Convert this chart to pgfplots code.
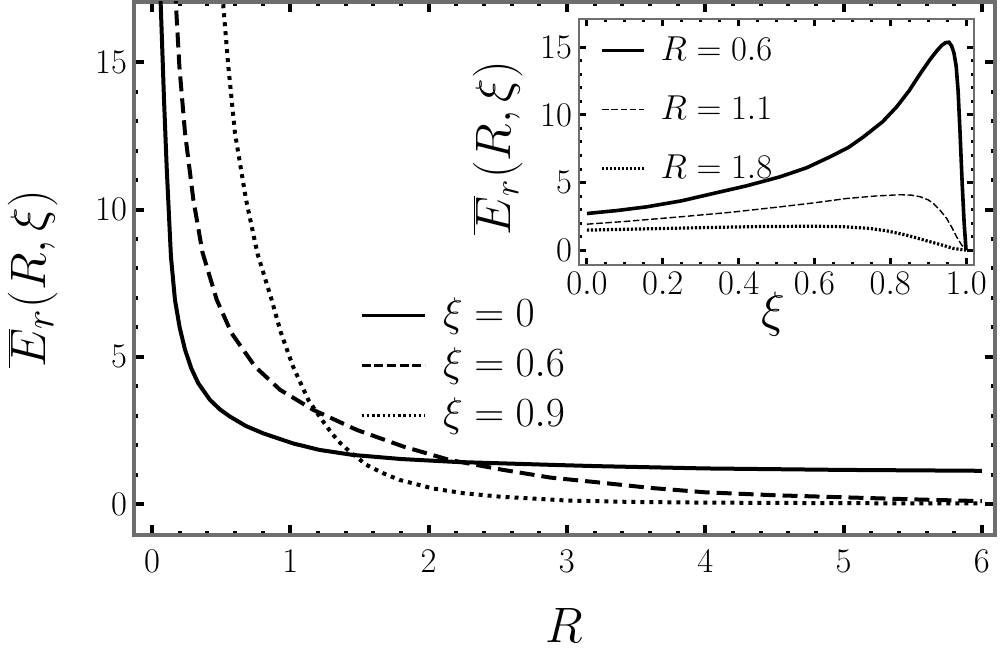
\documentclass[border=0pt]{standalone}
\usepackage{pgfplots}
\pgfplotsset{compat=1.18}
\definecolor{framegray}{RGB}{110,110,110}
\begin{document}
\begin{tikzpicture}
\begin{axis}[
 name=main, at={(0pt,0pt)}, anchor=south west,
 scale only axis, width=430.5pt, height=266.5pt,
 xmin=-0.13, xmax=6.095, ymin=-1.05, ymax=17.05,
 xtick={0,1,2,3,4,5,6}, ytick={0,5,10,15},
 minor x tick num=4, minor y tick num=4,
 tick align=inside, tick pos=both,
 axis line style={framegray, line width=1.6pt},
 tick style={black, line width=2pt},
 major tick length=5pt, minor tick length=2.2pt,
 tick label style={font=\fontsize{19}{21}\selectfont},
 xticklabel style={yshift=-4pt},
 xlabel={$R$},
 xlabel style={font=\fontsize{32}{36}\selectfont, at={(axis description cs:0.5,-0.17)}, anchor=center},
 ylabel={$\overline{E}_r(R,\xi)$},
 ylabel style={font=\fontsize{32}{36}\selectfont, at={(axis description cs:-0.1173,0.48)}, anchor=center},
 legend style={at={(axis description cs:0.2625,0.4597)}, anchor=north west, draw=none, fill=none,
   inner sep=0pt, column sep=8.5pt, nodes={inner sep=0pt, text height=18pt, text depth=7pt},
   font=\fontsize{22}{25}\selectfont},
 legend cell align=left,
 legend image code/.code={\draw[#1] (0pt,0pt) -- (31.5pt,0pt);},
]
\addlegendimage{black, line width=1.3pt}
\addlegendimage{black, line width=1.3pt, dash pattern=on 4.5pt off 1.8pt}
\addlegendimage{black, line width=1.2pt, dash pattern=on 1.2pt off 1.4pt}
\addplot[black, line width=2pt, forget plot] coordinates {
(0.052,20.0) (0.063,17.0) (0.087,13.74) (0.106,11.47) (0.137,8.41) (0.166,6.94)
(0.2,6.0) (0.239,5.24) (0.285,4.6) (0.335,4.1) (0.419,3.54) (0.49,3.22) (0.564,2.97)
(0.68,2.65) (0.805,2.4) (1.02,2.06) (1.21,1.84) (1.45,1.67) (1.8,1.53) (2.2,1.43)
(2.9,1.33) (3.2,1.29) (4.0,1.21) (5.0,1.16) (6.0,1.13)};
\addplot[black, line width=2pt, dash pattern=on 7.5pt off 3.5pt, forget plot] coordinates {
(0.16,19.0) (0.174,16.9) (0.198,14.87) (0.239,12.6) (0.299,10.34) (0.365,8.55)
(0.468,6.94) (0.576,5.8) (0.745,4.67) (0.926,3.88) (1.166,3.2) (1.48,2.52) (1.82,1.95)
(2.15,1.5) (2.54,1.16) (2.88,0.9) (3.24,0.73) (3.6,0.55) (4.0,0.4) (4.5,0.3) (5.0,0.23) (5.5,0.16) (6.0,0.1)};
\addplot[black, line width=2pt, dash pattern=on 2pt off 2.5pt, forget plot] coordinates {
(0.50,18.5) (0.516,16.9) (0.552,14.87) (0.6,12.6) (0.68,10.34) (0.763,8.5) (0.865,6.94)
(0.93,5.85) (1.02,4.67) (1.13,3.54) (1.215,2.95) (1.3,2.4) (1.36,2.08) (1.43,1.78) (1.55,1.33)
(1.67,1.05) (1.79,0.82) (2.03,0.53) (2.25,0.37) (2.52,0.25) (3.0,0.12) (3.5,0.07) (4.0,0.05) (5.0,0.03) (6.0,0.02)};
\legend{$\xi = 0$, $\xi = 0.6$, $\xi = 0.9$}
\end{axis}
\begin{axis}[
 name=inset, at={(222.5pt,135pt)}, anchor=south west,
 scale only axis, width=197.5pt, height=123pt,
 axis background/.style={fill=white},
 xmin=-0.021, xmax=1.021, ymin=-1.1, ymax=17.1,
 xtick={0,0.2,0.4,0.6,0.8,1.0}, ytick={0,5,10,15},
 minor x tick num=3, minor y tick num=4,
 tick align=inside, tick pos=both,
 axis line style={framegray, line width=1.4pt},
 tick style={black, line width=1.5pt},
 major tick length=3.5pt, minor tick length=1.6pt,
 tick label style={font=\fontsize{19}{21}\selectfont},
 xticklabel style={/pgf/number format/.cd, fixed, fixed zerofill, precision=1},
 xlabel={$\xi$},
 xlabel style={font=\fontsize{26}{30}\selectfont, at={(axis description cs:0.491,-0.2)}, anchor=center},
 ylabel={$\overline{E}_r(R,\xi)$},
 ylabel style={font=\fontsize{26}{30}\selectfont, at={(axis description cs:-0.205,0.476)}, anchor=center},
 legend style={at={(axis description cs:0.053,0.994)}, anchor=north west, draw=none, fill=none,
   inner sep=0pt, column sep=7.5pt, nodes={inner sep=0pt, text height=19.75pt, text depth=9.75pt},
   font=\fontsize{19}{23}\selectfont},
 legend cell align=left,
 legend image code/.code={\draw[#1] (0pt,0pt) -- (21pt,0pt);},
]
\addplot[black, line width=1.8pt] coordinates {
(0,2.71) (0.08,2.93) (0.157,3.2) (0.25,3.65) (0.333,4.19) (0.42,4.75) (0.509,5.42)
(0.58,6.1) (0.641,6.9) (0.69,7.6) (0.729,8.37) (0.78,9.5) (0.817,10.6) (0.85,11.8)
(0.879,13.05) (0.905,14.1) (0.923,14.75) (0.936,15.15) (0.946,15.35) (0.955,15.38)
(0.962,15.1) (0.968,14.6) (0.974,13.6) (0.979,11.8) (0.984,8.8) (0.99,4.8) (0.995,2.0) (1.0,0)};
\addplot[black, line width=0.7pt, dash pattern=on 3.3pt off 1.3pt] coordinates {
(0,1.92) (0.1,2.12) (0.245,2.46) (0.38,2.8) (0.509,3.2) (0.6,3.5) (0.685,3.82) (0.76,4.0)
(0.826,4.1) (0.855,4.07) (0.879,3.95) (0.9,3.72) (0.914,3.45) (0.93,3.0) (0.949,2.34)
(0.963,1.65) (0.975,0.99) (0.988,0.4) (1.0,0)};
\addplot[black, line width=1.6pt, dash pattern=on 1.1pt off 0.9pt] coordinates {
(0,1.48) (0.15,1.57) (0.333,1.68) (0.45,1.74) (0.597,1.77) (0.68,1.73) (0.747,1.6)
(0.79,1.43) (0.843,1.11) (0.905,0.62) (0.94,0.35) (0.967,0.12) (1.0,0)};
\legend{$R = 0.6$, $R = 1.1$, $R = 1.8$}
\end{axis}
\pgfresetboundingbox
\path[use as bounding box] (-67pt,-58pt) rectangle (433pt,267.5pt);
\end{tikzpicture}
\end{document}
